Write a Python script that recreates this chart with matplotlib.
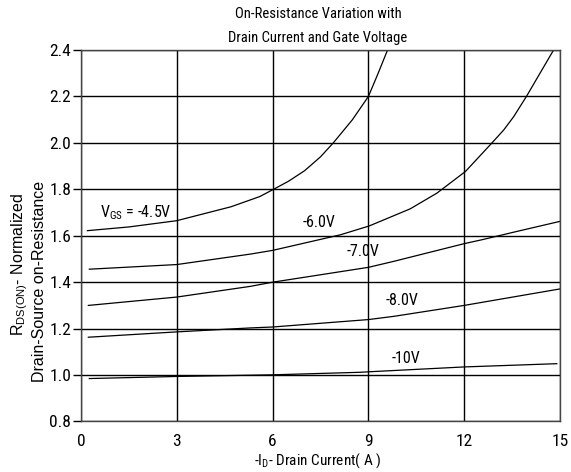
import matplotlib
matplotlib.use("Agg")
import matplotlib.pyplot as plt
from matplotlib import font_manager

# ---------- data ----------
ID_45 = [0.2, 1.5, 3.0, 4.7, 5.6, 6.0, 6.5, 7.0, 7.5, 7.9, 8.5, 9.0, 9.3, 9.6]
R_45 = [1.622, 1.638, 1.665, 1.725, 1.769, 1.798, 1.835, 1.88, 1.94, 2.0, 2.10, 2.2, 2.298, 2.4]

ID_60 = [0.26, 3.0, 5.3, 6.0, 8.12, 9.02, 9.37, 10.31, 11.15, 12.04, 12.87, 13.24,
         13.55, 13.94, 14.8]
R_60 = [1.456, 1.476, 1.521, 1.537, 1.604, 1.642, 1.662, 1.716, 1.784, 1.877, 2.0, 2.056,
        2.113, 2.198, 2.4]

ID_70 = [0.23, 3.0, 5.3, 6.0, 9.0, 9.8, 12.0, 12.56, 13.66, 15.0]
R_70 = [1.30, 1.336, 1.382, 1.40, 1.464, 1.49, 1.566, 1.583, 1.619, 1.662]

ID_80 = [0.23, 3.0, 5.3, 6.0, 9.0, 9.8, 12.0, 15.0]
R_80 = [1.163, 1.186, 1.203, 1.207, 1.239, 1.253, 1.30, 1.371]

ID_10 = [0.26, 3.0, 6.0, 8.75, 9.0, 12.0, 14.9]
R_10 = [0.985, 0.994, 1.001, 1.012, 1.014, 1.035, 1.049]

CURVE_LABELS = [r"V$_\mathregular{GS}$ = -4.5V", "-6.0V", "-7.0V", "-8.0V", "-10V"]
X_TICKS = [0, 3, 6, 9, 12, 15]
Y_TICKS = [0.8, 1.0, 1.2, 1.4, 1.6, 1.8, 2.0, 2.2, 2.4]

# condensed face for the datasheet look, fall back if missing
names = {f.name for f in font_manager.fontManager.ttflist}
NARROW = [n for n in ["Liberation Sans Narrow", "Roboto Condensed", "Open Sans Condensed",
                      "Liberation Sans"] if n in names][:1] + ["DejaVu Sans"]
plt.rcParams["font.family"] = NARROW
plt.rcParams["mathtext.fontset"] = "custom"
plt.rcParams["mathtext.rm"] = NARROW[0]

fig = plt.figure(figsize=(5.71, 4.72), dpi=100)
ax = fig.add_axes([0.1419, 0.107, 0.9807 - 0.1419, 0.894 - 0.107])

ax.set_xlim(0, 15)
ax.set_ylim(0.8, 2.4)
ax.set_xticks(X_TICKS)
ax.set_yticks(Y_TICKS)
ax.set_yticklabels([f"{v:.1f}" for v in Y_TICKS])
ax.grid(True, color="black", linewidth=1.0)
ax.set_axisbelow(True)
for s in ax.spines.values():
    s.set_color("#444444")
    s.set_linewidth(1.0)
ax.tick_params(axis="y", length=6, width=1.0, color="black", pad=1, labelsize=12.5)
ax.tick_params(axis="x", length=0, pad=9, labelsize=12.5)

for xs, ys in [(ID_45, R_45), (ID_60, R_60), (ID_70, R_70), (ID_80, R_80), (ID_10, R_10)]:
    ax.plot(xs, ys, color="black", linewidth=0.9)

# curve labels
label_pos = [(0.6, 1.70), (6.95, 1.655), (8.31, 1.532), (9.53, 1.322), (9.74, 1.070)]
for (lx, ly), txt in zip(label_pos, CURVE_LABELS):
    ax.text(lx, ly, txt, fontsize=11.5, ha="left", va="center")

# title
fig.text(0.557, 1 - 14 / 472, "On-Resistance Variation with", ha="center", va="center", fontsize=10.5)
fig.text(0.557, 1 - 38 / 472, "Drain Current and Gate Voltage", ha="center", va="center", fontsize=10.5)

# axis labels
fig.text(0.557, 1 - 461 / 472, r"-I$_\mathregular{D}$- Drain Current( A )",
         ha="center", va="center", fontsize=11)
fig.text(20 / 571, 1 - 264 / 472, r"R$_\mathregular{DS(ON)}$- Normalized",
         rotation=90, ha="center", va="center", fontsize=11.5, family=["Liberation Sans", "DejaVu Sans"])
fig.text(39.5 / 571, 1 - 281 / 472, "Drain-Source on-Resistance",
         rotation=90, ha="center", va="center", fontsize=11.5, family=["Liberation Sans", "DejaVu Sans"])

fig.savefig("out.png", dpi=100)
